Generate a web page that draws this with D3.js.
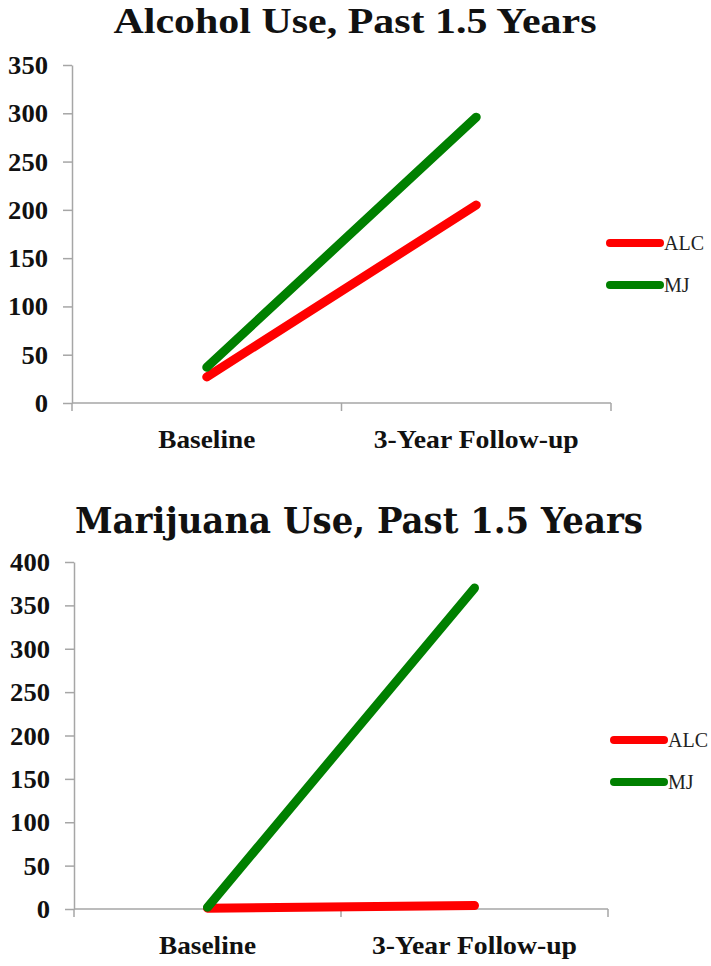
<!DOCTYPE html>
<html>
<head>
<meta charset="utf-8">
<script src="https://cdn.jsdelivr.net/npm/d3@7"></script>
<style>
  body { margin: 0; background: #fff; }
  svg { display: block; }
</style>
</head>
<body>
<script>
// categories on the x axis
const categories = ["Baseline", "3-Year Follow-up"];
const seriesNames = ["ALC", "MJ"];
const seriesColors = ["#ff0000", "#008000"];

// top chart: alcohol use
const alcTitle = "Alcohol Use, Past 1.5 Years";
const alcALC = [27, 205];
const alcMJ = [37, 296];
const alcTicks = [0, 50, 100, 150, 200, 250, 300, 350];

// bottom chart: marijuana use
const mjTitle = "Marijuana Use, Past 1.5 Years";
const mjALC = [1, 4];
const mjMJ = [2, 370];
const mjTicks = [0, 50, 100, 150, 200, 250, 300, 350, 400];

const W = 711, H = 966;
const serif = "'Liberation Serif', 'Times New Roman', serif";
const svg = d3.select("body").append("svg").attr("width", W).attr("height", H);

function drawChart(opt) {
  const g = svg.append("g");
  const x = d3.scaleBand().domain(categories).range([opt.left, opt.right]);
  const y = d3.scaleLinear().domain([0, d3.max(opt.ticks)]).range([opt.bottom, opt.top]);

  // title
  g.append("text")
    .attr("x", opt.titleX)
    .attr("y", opt.titleY)
    .attr("text-anchor", "middle")
    .attr("textLength", opt.titleLen)
    .attr("lengthAdjust", "spacingAndGlyphs")
    .attr("fill", "#111")
    .style("font-family", opt.titleFont)
    .style("font-weight", "bold")
    .style("font-size", opt.titleSize + "px")
    .text(opt.title);

  // y axis
  const yAxis = g.append("g")
    .attr("transform", `translate(${opt.left},0)`)
    .call(d3.axisLeft(y).tickValues(opt.ticks).tickSize(9).tickPadding(15).tickSizeOuter(0));
  yAxis.select(".domain").attr("stroke", "#a6a6a6").attr("stroke-width", 1.5);
  yAxis.selectAll(".tick line").attr("stroke", "#a6a6a6").attr("stroke-width", 1.5);
  yAxis.selectAll(".tick text")
    .attr("fill", "#111")
    .attr("textLength", (d) => String(d).length * 13.3)
    .attr("lengthAdjust", "spacingAndGlyphs")
    .style("font-family", serif)
    .style("font-weight", "bold")
    .style("font-size", "25px")
    .attr("dy", "0.34em");

  // x axis with ticks at band edges
  const xg = g.append("g").attr("transform", `translate(0,${opt.bottom})`);
  xg.append("line")
    .attr("x1", opt.left).attr("x2", opt.right)
    .attr("stroke", "#a6a6a6").attr("stroke-width", 1.5);
  const edges = categories.map((c) => x(c)).concat([opt.right]);
  xg.selectAll("line.edge").data(edges).enter().append("line")
    .attr("class", "edge")
    .attr("x1", (d) => d).attr("x2", (d) => d)
    .attr("y1", 0).attr("y2", 8)
    .attr("stroke", "#a6a6a6").attr("stroke-width", 1.5);
  xg.selectAll("text").data(categories).enter().append("text")
    .attr("x", (d) => x(d) + x.bandwidth() / 2)
    .attr("y", opt.catDy)
    .attr("text-anchor", "middle")
    .attr("textLength", (d, i) => opt.catLen[i])
    .attr("lengthAdjust", "spacingAndGlyphs")
    .attr("fill", "#111")
    .style("font-family", serif)
    .style("font-weight", "bold")
    .style("font-size", "26px")
    .text((d) => d);

  // lines
  const line = d3.line()
    .x((d, i) => x(categories[i]) + x.bandwidth() / 2)
    .y((d) => y(d));
  const series = [opt.alc, opt.mj];
  g.selectAll("path.series").data(series).enter().append("path")
    .attr("class", "series")
    .attr("d", line)
    .attr("fill", "none")
    .attr("stroke", (d, i) => seriesColors[i])
    .attr("stroke-width", 9)
    .attr("stroke-linecap", "round");

  // legend
  const lg = g.append("g").attr("transform", `translate(${opt.legX},${opt.legY})`);
  seriesNames.forEach((name, i) => {
    lg.append("line")
      .attr("x1", 0).attr("x2", 50)
      .attr("y1", i * 42).attr("y2", i * 42)
      .attr("stroke", seriesColors[i])
      .attr("stroke-width", 8)
      .attr("stroke-linecap", "round");
    lg.append("text")
      .attr("x", 54)
      .attr("y", i * 42 + 7)
      .attr("fill", "#222")
      .style("font-family", serif)
      .style("font-size", "20px")
      .text(name);
  });
}

drawChart({
  title: alcTitle, titleX: 355, titleY: 33, titleLen: 483, titleSize: 35,
  titleFont: serif,
  left: 72, right: 611, top: 65, bottom: 403,
  ticks: alcTicks, alc: alcALC, mj: alcMJ,
  catDy: 45, catLen: [97, 205],
  legX: 610, legY: 243
});

drawChart({
  title: mjTitle, titleX: 359, titleY: 533, titleLen: 568, titleSize: 35,
  titleFont: "'DejaVu Serif', serif",
  left: 74, right: 608, top: 562, bottom: 909,
  ticks: mjTicks, alc: mjALC, mj: mjMJ,
  catDy: 45, catLen: [97, 205],
  legX: 614, legY: 740
});
</script>
</body>
</html>
